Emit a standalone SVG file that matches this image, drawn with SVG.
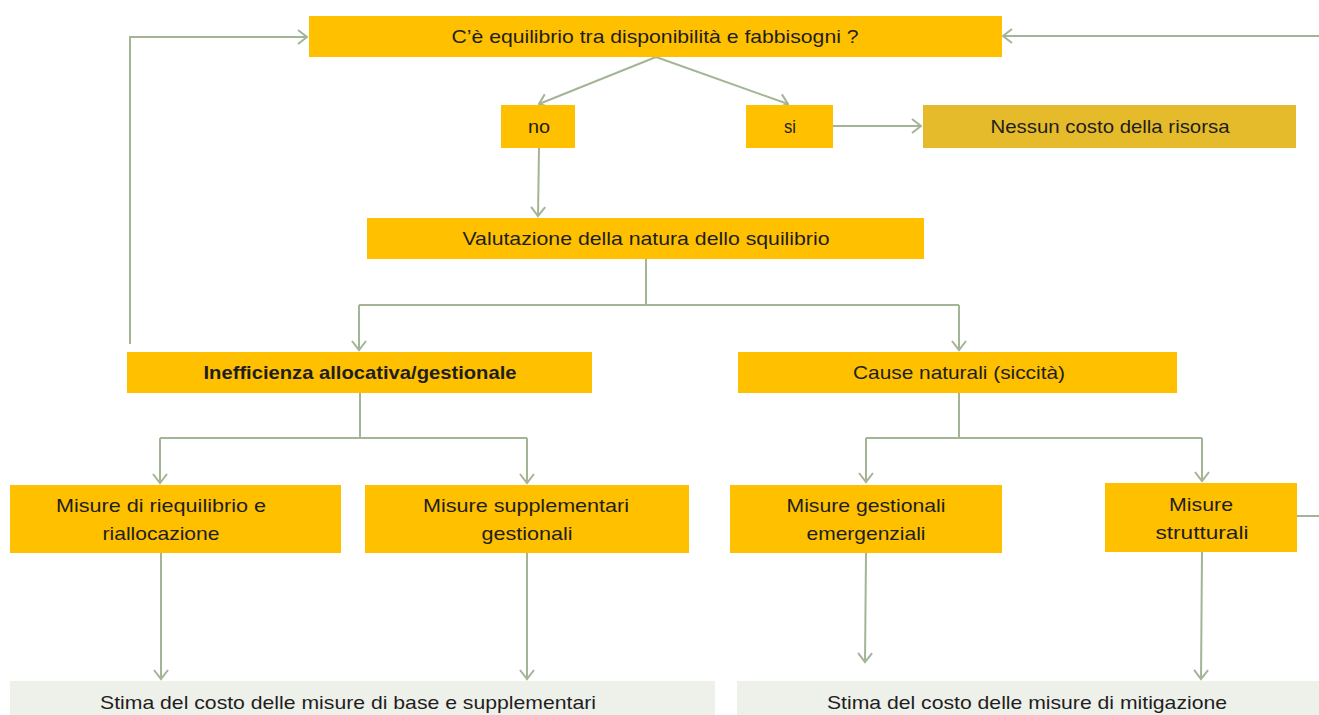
<svg xmlns="http://www.w3.org/2000/svg" width="1319" height="715" viewBox="0 0 1319 715">
<style>
.b{fill:#FFC000}
.d{fill:#E5BB2B}
.g{fill:#EEF0EA}
text{font-family:"Liberation Sans",Arial,sans-serif;font-size:18.5px;fill:#1e1e1e;text-anchor:middle}
.bold{font-weight:bold}
.c{fill:none;stroke:#A3B596;stroke-width:2}
</style>
<defs>
<marker id="ah" markerUnits="userSpaceOnUse" markerWidth="20" markerHeight="20" refX="0" refY="0" viewBox="-12 -10 14 20" orient="auto" overflow="visible">
<path d="M-9,-7 L0,0 L-9,7" fill="none" stroke="#A3B596" stroke-width="2"/>
</marker>
</defs>
<rect width="1319" height="715" fill="#fff"/>
<g id="connectors">
<path class="c" d="M130,344 V37 H307" marker-end="url(#ah)"/>
<path class="c" d="M1319,36 H1003" marker-end="url(#ah)"/>
<path class="c" d="M656,57 L539,104" marker-end="url(#ah)"/>
<path class="c" d="M656,57 L788,104" marker-end="url(#ah)"/>
<path class="c" d="M833,126 H921" marker-end="url(#ah)"/>
<path class="c" d="M539,148 L538,216" marker-end="url(#ah)"/>
<path class="c" d="M646,259 V305"/>
<path class="c" d="M359,305 H959"/>
<path class="c" d="M359,305 V350" marker-end="url(#ah)"/>
<path class="c" d="M959,305 V350" marker-end="url(#ah)"/>
<path class="c" d="M360,393 V438"/>
<path class="c" d="M160,438 H527"/>
<path class="c" d="M160,438 V483" marker-end="url(#ah)"/>
<path class="c" d="M527,438 V483" marker-end="url(#ah)"/>
<path class="c" d="M959,393 V438"/>
<path class="c" d="M866,438 H1202"/>
<path class="c" d="M866,438 V482" marker-end="url(#ah)"/>
<path class="c" d="M1202,438 V481" marker-end="url(#ah)"/>
<path class="c" d="M161,553 V679" marker-end="url(#ah)"/>
<path class="c" d="M527,553 V679" marker-end="url(#ah)"/>
<path class="c" d="M866,553 L865,662" marker-end="url(#ah)"/>
<path class="c" d="M1202,552 L1201,679" marker-end="url(#ah)"/>
<path class="c" d="M1297,516 H1319"/>
</g>
<g id="n-top"><rect class="b" x="309" y="16" width="693" height="41"/><text x="655" y="43" textLength="407" lengthAdjust="spacingAndGlyphs">C’è equilibrio tra disponibilità e fabbisogni ?</text></g>
<g id="n-no"><rect class="b" x="501" y="105" width="74" height="43"/><text x="539" y="133" textLength="22" lengthAdjust="spacingAndGlyphs">no</text></g>
<g id="n-si"><rect class="b" x="746" y="105" width="87" height="43"/><text x="790" y="133" textLength="12" lengthAdjust="spacingAndGlyphs">si</text></g>
<g id="n-nessun"><rect class="d" x="923" y="105" width="373" height="43"/><text x="1110" y="133" textLength="239" lengthAdjust="spacingAndGlyphs">Nessun costo della risorsa</text></g>
<g id="n-valutazione"><rect class="b" x="367" y="218" width="557" height="41"/><text x="646" y="245" textLength="367" lengthAdjust="spacingAndGlyphs">Valutazione della natura dello squilibrio</text></g>
<g id="n-inefficienza"><rect class="b" x="127" y="352" width="465" height="41"/><text class="bold" x="360" y="379" textLength="313" lengthAdjust="spacingAndGlyphs">Inefficienza allocativa/gestionale</text></g>
<g id="n-cause"><rect class="b" x="738" y="352" width="439" height="41"/><text x="959" y="379" textLength="212" lengthAdjust="spacingAndGlyphs">Cause naturali (siccità)</text></g>
<g id="n-riequilibrio"><rect class="b" x="10" y="485" width="331" height="68"/><text x="161" y="512" textLength="210" lengthAdjust="spacingAndGlyphs">Misure di riequilibrio e</text><text x="161" y="540" textLength="117" lengthAdjust="spacingAndGlyphs">riallocazione</text></g>
<g id="n-supplementari"><rect class="b" x="365" y="485" width="324" height="68"/><text x="526" y="512" textLength="206" lengthAdjust="spacingAndGlyphs">Misure supplementari</text><text x="527" y="540" textLength="91" lengthAdjust="spacingAndGlyphs">gestionali</text></g>
<g id="n-gestionali"><rect class="b" x="730" y="485" width="272" height="68"/><text x="866" y="512" textLength="159" lengthAdjust="spacingAndGlyphs">Misure gestionali</text><text x="866" y="540" textLength="119" lengthAdjust="spacingAndGlyphs">emergenziali</text></g>
<g id="n-strutturali"><rect class="b" x="1105" y="483" width="192" height="69"/><text x="1201" y="511" textLength="64" lengthAdjust="spacingAndGlyphs">Misure</text><text x="1202" y="539" textLength="93" lengthAdjust="spacingAndGlyphs">strutturali</text></g>
<g id="n-stima-base"><rect class="g" x="10" y="681" width="705" height="34"/><text x="348" y="709" textLength="496" lengthAdjust="spacingAndGlyphs">Stima del costo delle misure di base e supplementari</text></g>
<g id="n-stima-mitigazione"><rect class="g" x="737" y="681" width="582" height="34"/><text x="1027" y="709" textLength="400" lengthAdjust="spacingAndGlyphs">Stima del costo delle misure di mitigazione</text></g>
</svg>
